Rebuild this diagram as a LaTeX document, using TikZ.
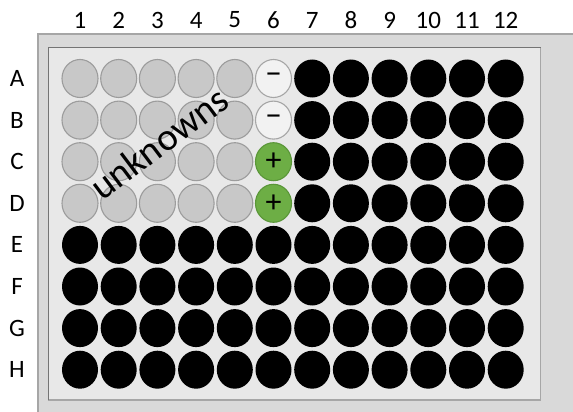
\documentclass[tikz,border=0pt]{standalone}
\usepackage{fontspec}
\setmainfont{Carlito}
\usetikzlibrary{shapes.geometric}
\definecolor{outerbg}{HTML}{D9D9D9}
\definecolor{innerbg}{HTML}{E8E8E8}
\definecolor{edge}{HTML}{A6A6A6}
\definecolor{unkfill}{HTML}{C8C8C8}
\definecolor{unkedge}{HTML}{9C9C9C}
\definecolor{negfill}{HTML}{F2F2F2}
\definecolor{posfill}{HTML}{6DAE45}
\definecolor{posedge}{HTML}{5A9638}
\begin{document}
\begin{tikzpicture}[x=1pt,y=-1pt,
  wellshape/.style={ellipse,minimum width=36pt,minimum height=38pt,inner sep=0pt},
  unkwell/.style={wellshape,fill=unkfill,draw=unkedge,line width=1.1pt},
  negwell/.style={wellshape,fill=negfill,draw=edge,line width=1.1pt,font=\fontsize{34}{34}\selectfont},
  poswell/.style={wellshape,fill=posfill,draw=posedge,line width=1.1pt,font=\fontsize{32}{32}\selectfont},
  blkwell/.style={wellshape,fill=black},
  collab/.style={font=\fontsize{25}{25}\selectfont},
  rowlab/.style={font=\fontsize{25}{25}\selectfont}]
\useasboundingbox (0,0) rectangle (573,412);
\fill[white] (0,0) rectangle (573,412);
\fill[outerbg] (38,34) rectangle (573,412);
\draw[edge,line width=1.2pt] (573,34) -- (38,34) -- (38,412);
\fill[innerbg] (48,48) rectangle (540.5,400);
\draw[edge,line width=1.2pt] (48,400) -- (540.5,400) -- (540.5,48);
\draw[edge!70!black,line width=1pt] (48,400) -- (48,48) -- (540.5,48);
\foreach \c in {1,...,12}{
  \node[collab] (c\c) at ({80+(\c-1)*38.7},20) {\c};
}
\foreach \r/\L in {1/A,2/B,3/C,4/D,5/E,6/F,7/G,8/H}{
  \node[rowlab] (r\L) at (17,{78.5+(\r-1)*41.6}) {\L};
  \foreach \c in {1,...,12}{
    \pgfmathsetmacro{\xx}{80+(\c-1)*38.7}
    \pgfmathsetmacro{\yy}{78.5+(\r-1)*41.6}
    \ifnum\r<5
      \ifnum\c<6
        \node[unkwell] (w\L\c) at (\xx,\yy) {};
      \else\ifnum\c=6
        \ifnum\r<3
          \node[negwell] (w\L\c) at (\xx,\yy) {–};
        \else
          \node[poswell] (w\L\c) at (\xx,\yy) {+};
        \fi
      \else
        \node[blkwell] (w\L\c) at (\xx,\yy) {};
      \fi\fi
    \else
      \node[blkwell] (w\L\c) at (\xx,\yy) {};
    \fi
  }
}
\node[anchor=base,rotate=37,inner sep=0pt,font=\fontsize{38.5}{38.5}\selectfont] (unk) at (167,153.5) {unknowns};
\end{tikzpicture}
\end{document}
